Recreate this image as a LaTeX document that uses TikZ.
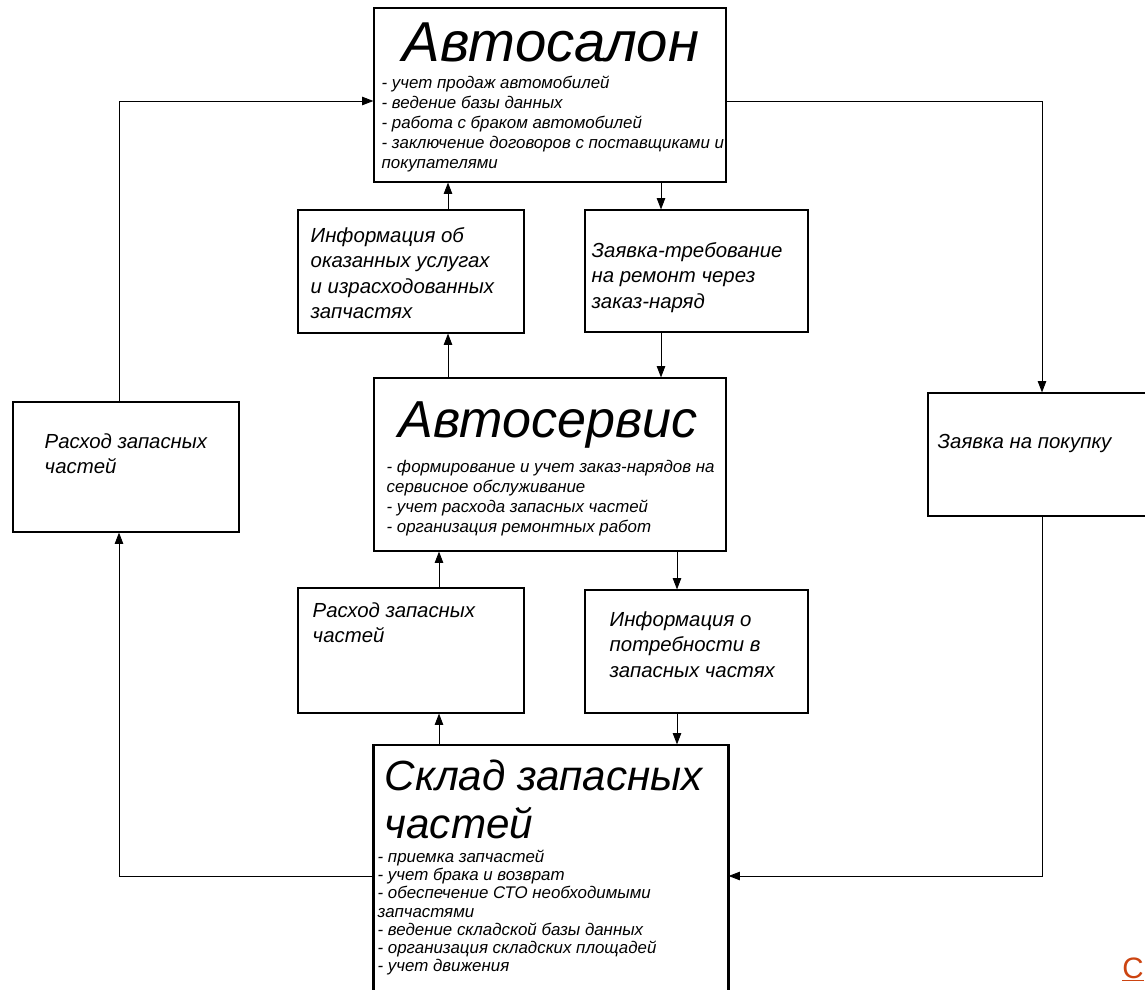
\documentclass[tikz,border=0pt]{standalone}
\usepackage{fontspec}
\setmainfont{Liberation Sans}
\usetikzlibrary{arrows.meta}
\definecolor{linkred}{RGB}{204,68,17}
\def\ttlfont#1{\fontsize{#1}{#1}\selectfont\itshape}

\begin{document}
\begin{tikzpicture}[x=0.025cm, y=-0.025cm,
  box/.style={draw, line width=0.8pt, inner sep=0pt},
  txt/.style={anchor=north west, align=left, inner sep=0pt, font=\fontsize{14.5}{18}\selectfont\itshape},
  lst/.style={anchor=north west, align=left, inner sep=0pt, font=\fontsize{12}{14.2}\selectfont\itshape},
  ttl/.style={anchor=north west, align=left, inner sep=0pt},
  arr/.style={line width=0.6pt, -{Triangle[length=8pt, width=6pt]}}]
  %%%%% FRAME %%%%%
  \useasboundingbox (0,0) rectangle (1145,990);

  %%%%% BOXES %%%%%
  \node[box, minimum width=8.8cm, minimum height=4.35cm] (salon) at (550,95) {};
  \node[box, minimum width=5.65cm, minimum height=3.075cm] (infoU) at (411,271.5) {};
  \node[box, minimum width=5.575cm, minimum height=3.05cm] (zayav) at (696.5,271) {};
  \node[box, minimum width=8.8cm, minimum height=4.325cm] (servis) at (550,464.5) {};
  \node[box, minimum width=5.65cm, minimum height=3.125cm] (rashodM) at (411,650.5) {};
  \node[box, minimum width=5.575cm, minimum height=3.075cm] (infoP) at (696.5,651.5) {};
  \node[box, minimum width=8.85cm, minimum height=7cm] (sklad) at (551,885) {};
  \draw[line width=2.4pt] (sklad.north west) -- (sklad.south west);
  \draw[line width=2.4pt] (sklad.north east) -- (sklad.south east);
  \node[box, minimum width=5.65cm, minimum height=3.25cm] (rashodL) at (126,467) {};
  \node[box, minimum width=5.8cm, minimum height=3.075cm] (pokup) at (1044,454.5) {};

  %%%%% TEXTS %%%%%
  \node[ttl] (salonT) at ([xshift=0.725cm, yshift=-0.375cm]salon.north west) {\ttlfont{40}Автосалон};
  \node[lst] (salonL) at ([xshift=0.2cm, yshift=-1.7cm]salon.north west)
    {- учет продаж автомобилей\\ - ведение базы данных\\ - работа с браком автомобилей\\
     - заключение договоров с поставщиками и\\ покупателями};
  \node[txt] (infoUT) at ([xshift=0.325cm, yshift=-0.45cm]infoU.north west)
    {Информация об\\ оказанных услугах\\ и израсходованных\\ запчастях};
  \node[txt] (zayavT) at ([xshift=0.175cm, yshift=-0.825cm]zayav.north west)
    {Заявка-требование\\ на ремонт через\\ заказ-наряд};
  \node[ttl] (servisT) at ([xshift=0.625cm, yshift=-0.6cm]servis.north west) {\ttlfont{37}Автосервис};
  \node[lst] (servisL) at ([xshift=0.325cm, yshift=-2.075cm]servis.north west)
    {- формирование и учет заказ-нарядов на\\ сервисное обслуживание\\
     - учет расхода запасных частей\\ - организация ремонтных работ};
  \node[txt] (rashodMT) at ([xshift=0.375cm, yshift=-0.375cm]rashodM.north west)
    {Расход запасных\\ частей};
  \node[txt] (infoPT) at ([xshift=0.625cm, yshift=-0.55cm]infoP.north west)
    {Информация о\\ потребности в\\ запасных частях};
  \node[ttl, font=\fontsize{30}{34}\selectfont\itshape] (skladT) at ([xshift=0.275cm, yshift=-0.375cm]sklad.north west)
    {Склад запасных\\ частей};
  \node[lst, font=\fontsize{12}{13}\selectfont\itshape] (skladL) at ([xshift=0.1cm, yshift=-2.625cm]sklad.north west)
    {- приемка запчастей\\ - учет брака и возврат\\ - обеспечение СТО необходимыми\\ запчастями\\
     - ведение складской базы данных\\ - организация складских площадей\\ - учет движения};
  \node[txt] (rashodLT) at ([xshift=0.8cm, yshift=-0.8cm]rashodL.north west)
    {Расход запасных\\ частей};
  \node[txt] (pokupT) at ([xshift=0.25cm, yshift=-1.05cm]pokup.north west)
    {Заявка на покупку};
  \node[anchor=base west, inner sep=0pt, text=linkred, font=\fontsize{21}{24}\selectfont] (lnk) at (1122,978) {\underline{С}};

  %%%%% CONNECTORS %%%%%
  \coordinate (c1) at (448,0);
  \coordinate (c2) at (661,0);
  \coordinate (c3) at (439,0);
  \coordinate (c4) at (677,0);
  \coordinate (c5) at (119,0);
  \coordinate (c6) at (1042,0);
  \coordinate (r1) at (0,101);
  \coordinate (r2) at (0,876);

  \draw[arr] (infoU.north -| c1) -- (salon.south -| c1);
  \draw[arr] (salon.south -| c2) -- (zayav.north -| c2);
  \draw[arr] (servis.north -| c1) -- (infoU.south -| c1);
  \draw[arr] (zayav.south -| c2) -- (servis.north -| c2);
  \draw[arr] (rashodM.north -| c3) -- (servis.south -| c3);
  \draw[arr] (servis.south -| c4) -- (infoP.north -| c4);
  \draw[arr] (sklad.north -| c3) -- (rashodM.south -| c3);
  \draw[arr] (infoP.south -| c4) -- (sklad.north -| c4);

  \draw[arr] (rashodL.north -| c5) |- (salon.west |- r1);
  \draw[arr] (salon.east |- r1) -| (pokup.north -| c6);
  \draw[arr] (pokup.south -| c6) |- (sklad.east |- r2);
  \draw[arr] (sklad.west |- r2) -| (rashodL.south -| c5);
\end{tikzpicture}
\end{document}
